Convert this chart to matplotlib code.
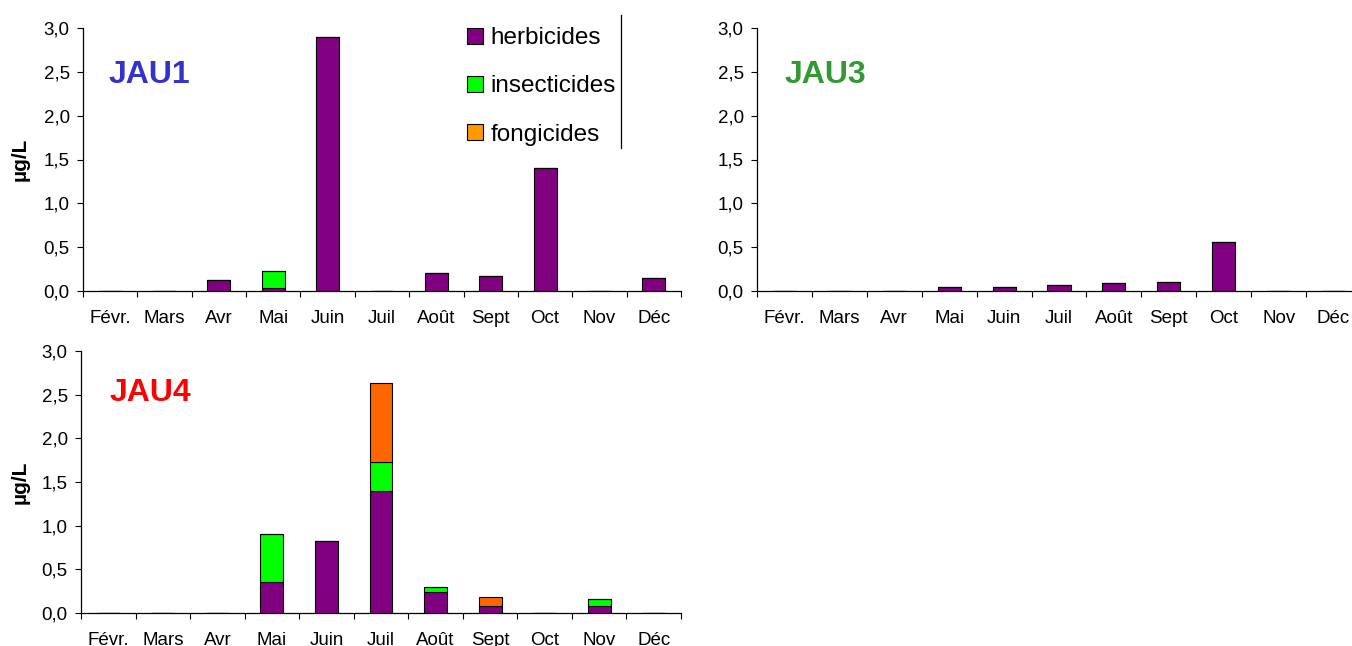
import numpy as np
import matplotlib
matplotlib.use("Agg")
import matplotlib.pyplot as plt
from matplotlib.lines import Line2D

plt.rcParams["font.family"] = ["Liberation Sans", "DejaVu Sans"]

months = ["Févr.", "Mars", "Avr", "Mai", "Juin", "Juil", "Août", "Sept", "Oct", "Nov", "Déc"]
series_names = ["herbicides", "insecticides", "fongicides"]

# concentrations in µg/L, one value per month
jau1_herbicides = [0, 0, 0.12, 0.03, 2.90, 0, 0.20, 0.17, 1.40, 0, 0.15]
jau1_insecticides = [0, 0, 0, 0.20, 0, 0, 0, 0, 0, 0, 0]
jau1_fongicides = [0, 0, 0, 0, 0, 0, 0, 0, 0, 0, 0]

jau3_herbicides = [0, 0, 0, 0.04, 0.04, 0.07, 0.09, 0.10, 0.56, 0, 0]
jau3_insecticides = [0, 0, 0, 0, 0, 0, 0, 0, 0, 0, 0]
jau3_fongicides = [0, 0, 0, 0, 0, 0, 0, 0, 0, 0, 0]

jau4_herbicides = [0, 0, 0, 0.36, 0.83, 1.40, 0.24, 0.08, 0, 0.08, 0]
jau4_insecticides = [0, 0, 0, 0.55, 0, 0.33, 0.06, 0, 0, 0.08, 0]
jau4_fongicides = [0, 0, 0, 0, 0, 0.90, 0, 0.10, 0, 0, 0]

y_ticks = [0.0, 0.5, 1.0, 1.5, 2.0, 2.5, 3.0]
y_tick_labels = ["0,0", "0,5", "1,0", "1,5", "2,0", "2,5", "3,0"]

PURPLE = "#800080"
GREEN = "#00FF00"
ORANGE_LIGHT = "#FF9900"
ORANGE = "#FF6600"

W, H = 1352, 646
fig = plt.figure(figsize=(W / 100, H / 100), dpi=100)


def px_axes(left, right, top, bottom):
    return fig.add_axes([left / W, 1 - bottom / H, (right - left) / W, (bottom - top) / H])


def draw_panel(ax, herb, insect, fong, fong_color, title, title_color, title_xy, ylabel=True):
    x = np.arange(len(months))
    herb = np.asarray(herb, float)
    insect = np.asarray(insect, float)
    fong = np.asarray(fong, float)
    kw = dict(width=0.42, edgecolor="black", linewidth=0.8, zorder=3)
    b1 = ax.bar(x, herb, color=PURPLE, label=series_names[0], **kw)
    b2 = ax.bar(x, insect, bottom=herb, color=GREEN, label=series_names[1], **kw)
    b3 = ax.bar(x, fong, bottom=herb + insect, color=fong_color, label=series_names[2], **kw)

    ax.set_xlim(-0.5, len(months) - 0.5)
    ax.set_ylim(0, 3.0)
    ax.set_yticks(y_ticks)
    ax.set_yticklabels(y_tick_labels)
    ax.set_xticks(x)
    ax.set_xticklabels(months)
    ax.set_xticks(np.arange(-0.5, len(months)), minor=True)
    ax.tick_params(axis="x", which="major", length=0, pad=14, labelsize=13.5)
    ax.tick_params(axis="x", which="minor", length=4.5, width=0.8, direction="out")
    ax.tick_params(axis="y", which="major", length=4.5, width=0.8, direction="out",
                   pad=5, labelsize=13.5)
    for s in ("top", "right"):
        ax.spines[s].set_visible(False)
    for s in ("left", "bottom"):
        ax.spines[s].set_linewidth(0.9)
        ax.spines[s].set_color("black")

    ax.text(title_xy[0], title_xy[1], title, transform=ax.transAxes, color=title_color,
            fontsize=23, fontweight="bold", ha="left", va="center")
    if ylabel:
        ax.set_ylabel("µg/L", fontsize=15, fontweight="bold")
    return b1, b2, b3


ax1 = px_axes(83, 681, 28, 291)
ax3 = px_axes(757, 757 + 604, 28, 291)
ax4 = px_axes(81, 681, 351, 613)

h = draw_panel(ax1, jau1_herbicides, jau1_insecticides, jau1_fongicides, ORANGE_LIGHT,
               "JAU1", "#3333CC", (0.042, 0.820))
ax1.yaxis.set_label_coords(-0.089, 0.5)

draw_panel(ax3, jau3_herbicides, jau3_insecticides, jau3_fongicides, ORANGE_LIGHT,
           "JAU3", "#339933", (0.045, 0.820), ylabel=False)

draw_panel(ax4, jau4_herbicides, jau4_insecticides, jau4_fongicides, ORANGE,
           "JAU4", "#FF0000", (0.048, 0.840))
ax4.yaxis.set_label_coords(-0.085, 0.5)

ax1.legend(handles=list(h), labels=series_names, loc="center left",
           bbox_to_anchor=((467 - 83) / 598, (291 - 86.5) / 263),
           frameon=False, fontsize=17.5, borderpad=0, borderaxespad=0,
           handlelength=0.66, handleheight=0.66, handletextpad=0.3,
           labelspacing=1.08)

fig.add_artist(Line2D([621 / W, 621 / W], [1 - 15 / H, 1 - 148 / H],
                      transform=fig.transFigure, color="black", linewidth=0.9))

fig.savefig("out.png", dpi=100)
